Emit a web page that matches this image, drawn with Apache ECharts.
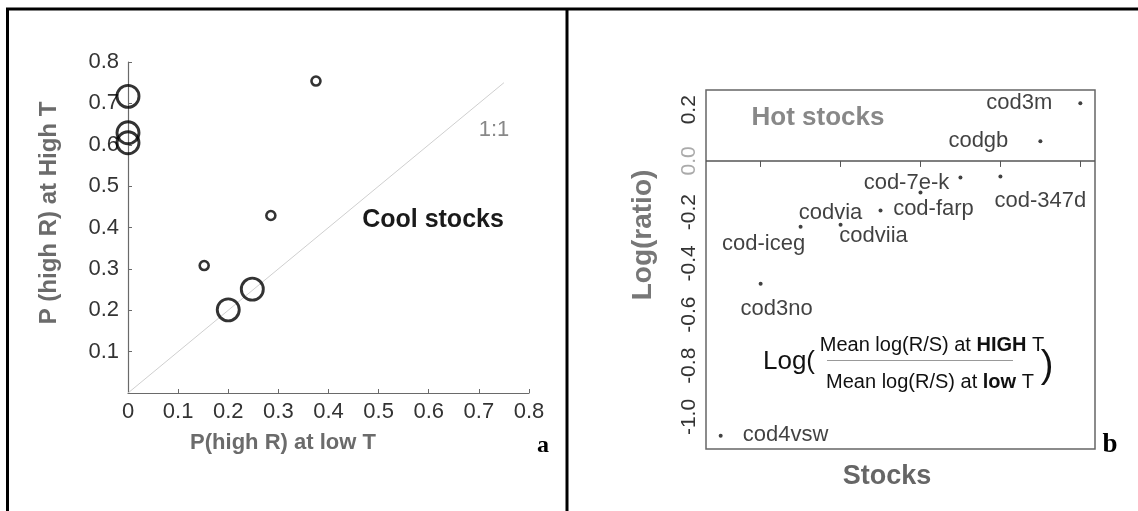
<!DOCTYPE html>
<html><head><meta charset="utf-8">
<script src="https://cdn.jsdelivr.net/npm/echarts@6/dist/echarts.min.js"></script>
<style>html,body{margin:0;padding:0;background:#fff}#c{width:1138px;height:511px}</style>
</head><body><div id="c"></div>
<script>
// ---- Panel a data ----
const largeX = [0, 0, 0, 0.200, 0.248];
const largeY = [0.717, 0.629, 0.605, 0.201, 0.251];
const smallX = [0.375, 0.285, 0.152];
const smallY = [0.754, 0.429, 0.308];
const oneToOneEnds = [0, 0.75];
const panelATicks = [0, 0.1, 0.2, 0.3, 0.4, 0.5, 0.6, 0.7, 0.8];

// ---- Panel b data ----
const stocks = ['cod4vsw','cod3no','cod-iceg','codvia','codviia','cod-farp','cod-7e-k','cod-347d','codgb','cod3m'];
const logRatio = [-1.073, -0.480, -0.257, -0.249, -0.194, -0.123, -0.065, -0.061, 0.077, 0.225];
const panelBYTicks = [-1.0, -0.8, -0.6, -0.4, -0.2, 0.0, 0.2];
const panelBXTicks = [2, 4, 6, 8, 10];

// ---- label layout (style, not data) ----
const labelOffsets = [[65,-1],[16,25],[-37,17],[-10,-12],[-7,25],[13,17],[-54,5],[40,24],[-62,0],[-61,0]];

const SANS = "'Liberation Sans', Arial, sans-serif";
const SERIF = "'Liberation Serif', 'DejaVu Serif', serif";

const chart = echarts.init(document.getElementById('c'), null, {renderer:'canvas'});

function txt(x, y, text, font, fill, rot, extra) {
  return Object.assign({
    type: 'text', x: x, y: y, rotation: rot || 0, silent: true,
    style: { text: text, x: 0, y: 0, font: font, fill: fill, align: 'center', verticalAlign: 'middle' }
  }, extra || {});
}

const option = {
  animation: false,
  backgroundColor: '#fff',
  grid: [
    { left: 128, top: 62, width: 401, height: 331, show: false },
    { left: 706, top: 90, width: 389, height: 359, show: true, borderColor: '#666', borderWidth: 1.5, backgroundColor: 'rgba(0,0,0,0)' }
  ],
  xAxis: [
    { gridIndex: 0, type: 'value', min: panelATicks[0], max: panelATicks[panelATicks.length - 1], interval: 0.1,
      axisLine: { show: true, lineStyle: { color: '#6a6a6a', width: 1.2 } },
      axisTick: { show: true, inside: true, length: 4, lineStyle: { color: '#6a6a6a' } },
      splitLine: { show: false },
      axisLabel: { margin: 8, fontSize: 22, fontFamily: SANS, color: '#333',
        formatter: v => v === 0 ? '0' : v.toFixed(1) } },
    { gridIndex: 1, type: 'value', min: 0.633, max: 10.367,
      axisLine: { show: false },
      axisTick: { show: true, inside: false, length: 6, customValues: panelBXTicks, lineStyle: { color: '#555' } },
      splitLine: { show: false },
      axisLabel: { show: false } }
  ],
  yAxis: [
    { gridIndex: 0, type: 'value', min: panelATicks[0], max: panelATicks[panelATicks.length - 1], interval: 0.1,
      axisLine: { show: true, lineStyle: { color: '#6a6a6a', width: 1.2 } },
      axisTick: { show: true, inside: true, length: 4, lineStyle: { color: '#6a6a6a' } },
      splitLine: { show: false },
      axisLabel: { margin: 9, fontSize: 22, fontFamily: SANS, color: '#333',
        formatter: v => v === 0 ? '' : v.toFixed(1) } },
    { gridIndex: 1, type: 'value', min: -1.125, max: 0.277,
      axisLine: { show: false },
      axisTick: { show: false },
      splitLine: { show: false },
      axisLabel: { customValues: panelBYTicks, rotate: 90, margin: 6, fontSize: 21, fontFamily: SANS,
        color: v => (Math.abs(v) < 1e-9 ? '#aaa' : '#333'),
        formatter: v => v.toFixed(1) } }
  ],
  series: [
    { type: 'line', xAxisIndex: 0, yAxisIndex: 0, silent: true, symbol: 'none',
      data: [[oneToOneEnds[0], oneToOneEnds[0]], [oneToOneEnds[1], oneToOneEnds[1]]],
      lineStyle: { color: '#cfcfcf', width: 1 }, z: 1 },
    { type: 'scatter', xAxisIndex: 0, yAxisIndex: 0, symbol: 'circle', symbolSize: 22,
      data: largeX.map((x, i) => [x, largeY[i]]),
      itemStyle: { color: 'rgba(0,0,0,0)', borderColor: '#000', borderWidth: 2.9 }, z: 3 },
    { type: 'scatter', xAxisIndex: 0, yAxisIndex: 0, symbol: 'circle', symbolSize: 9,
      data: smallX.map((x, i) => [x, smallY[i]]),
      itemStyle: { color: 'rgba(0,0,0,0)', borderColor: '#000', borderWidth: 2.6 }, z: 3 },
    { type: 'scatter', xAxisIndex: 1, yAxisIndex: 1, symbol: 'circle', symbolSize: 4,
      data: stocks.map((s, i) => ({ name: s, value: [i + 1, logRatio[i]],
        label: { offset: labelOffsets[i] } })),
      itemStyle: { color: '#111' },
      label: { show: true, position: 'inside', formatter: '{b}', fontSize: 22, fontFamily: SANS, color: '#111',
        align: 'center', verticalAlign: 'middle' },
      markLine: { silent: true, symbol: ['none', 'none'], label: { show: false },
        lineStyle: { color: '#555', width: 1.5, type: 'solid' }, data: [{ yAxis: 0 }] },
      z: 3 }
  ],
  graphic: [
    // frame
    { type: 'line', silent: true, shape: { x1: 6, y1: 9, x2: 1138, y2: 9 }, style: { stroke: '#000', lineWidth: 3 } },
    { type: 'line', silent: true, shape: { x1: 7.5, y1: 8, x2: 7.5, y2: 511 }, style: { stroke: '#000', lineWidth: 3 } },
    { type: 'line', silent: true, shape: { x1: 567, y1: 8, x2: 567, y2: 511 }, style: { stroke: '#000', lineWidth: 3 } },
    // panel a texts
    txt(494, 130, '1:1', '22px ' + SANS, '#888'),
    txt(433, 220, 'Cool stocks', 'bold 25px ' + SANS, '#1a1a1a'),
    txt(49, 213, 'P (high R) at High T', 'bold 24px ' + SANS, '#6b6b6b', Math.PI / 2),
    txt(283, 443, 'P(high R) at low T', 'bold 22px ' + SANS, '#6b6b6b'),
    txt(543, 446, 'a', 'bold 24px ' + SERIF, '#000'),
    // panel b texts
    txt(818, 118, 'Hot stocks', 'bold 26px ' + SANS, '#888'),
    txt(643, 235, 'Log(ratio)', 'bold 28px ' + SANS, '#777', Math.PI / 2),
    txt(887, 477, 'Stocks', 'bold 27px ' + SANS, '#666'),
    txt(1110, 445, 'b', 'bold 27px ' + SERIF, '#000'),
    txt(789, 362, 'Log(', '26px ' + SANS, '#111'),
    { type: 'text', x: 932, y: 345, silent: true,
      style: { text: '{n|Mean log(R/S) at }{b|HIGH}{n| T}', x: 0, y: 0, align: 'center', verticalAlign: 'middle',
        rich: { n: { font: '20px ' + SANS, fill: '#111' }, b: { font: 'bold 20px ' + SANS, fill: '#111' } } } },
    { type: 'line', silent: true, shape: { x1: 827, y1: 360.5, x2: 1013, y2: 360.5 }, style: { stroke: '#999', lineWidth: 1 } },
    { type: 'text', x: 930, y: 382, silent: true,
      style: { text: '{n|Mean log(R/S) at }{b|low}{n| T}', x: 0, y: 0, align: 'center', verticalAlign: 'middle',
        rich: { n: { font: '20px ' + SANS, fill: '#111' }, b: { font: 'bold 20px ' + SANS, fill: '#111' } } } },
    txt(1047, 367, ')', '38px ' + SANS, '#111')
  ]
};
chart.setOption(option);
</script>
</body></html>
